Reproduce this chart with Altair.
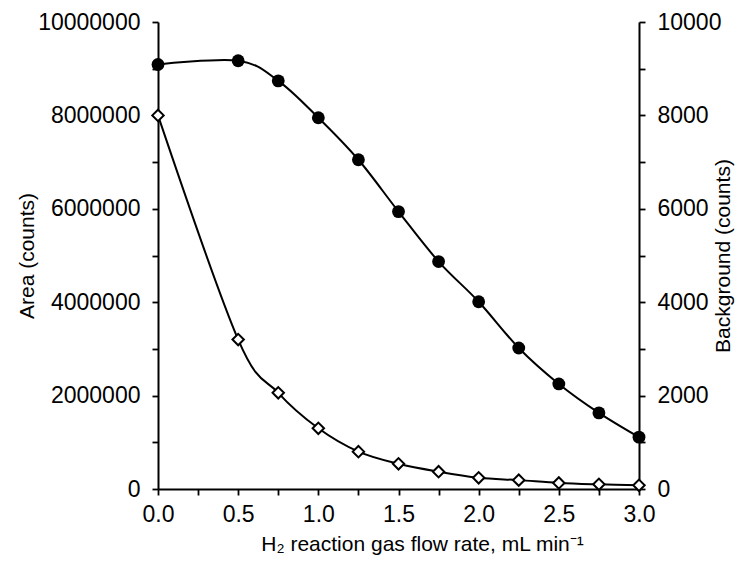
import altair as alt
import pandas as pd

flow = [0.0, 0.5, 0.75, 1.0, 1.25, 1.5, 1.75, 2.0, 2.25, 2.5, 2.75, 3.0]
area = [9090000, 9170000, 8740000, 7950000, 7050000, 5940000, 4870000,
        4010000, 3020000, 2250000, 1630000, 1110000]
background = [8000, 3200, 2060, 1300, 800, 540, 370, 240, 190, 130, 100, 80]

df = pd.DataFrame({"flow": flow, "area": area, "background": background})

FONT = "Liberation Sans"
LFS = 23
TFS = 21

x_enc = alt.X(
    "flow:Q",
    scale=alt.Scale(domain=[0, 3], nice=False, zero=False),
    axis=alt.Axis(
        title="H₂ reaction gas flow rate, mL min⁻¹",
        values=[i * 0.25 for i in range(13)],
        labelExpr="(round(datum.value*100) % 50 == 0) ? format(datum.value, '.1f') : ''",
        tickSize=6, tickColor="black", domainColor="black",
        tickWidth=1.8, domainWidth=2,
        labelPadding=8, titlePadding=7, titleX=264,
        grid=False, labelFlush=False, labelOverlap=False,
    ),
)

base = alt.Chart(df)

area_line = base.mark_line(interpolate="cardinal", color="black", strokeWidth=2).encode(
    x=x_enc,
    y=alt.Y(
        "area:Q",
        scale=alt.Scale(domain=[0, 10000000], nice=False),
        axis=alt.Axis(
            title="Area (counts)", orient="left",
            values=[i * 1000000 for i in range(11)],
            labelExpr="(datum.value % 2000000 == 0) ? format(datum.value, 'd') : ''",
            tickSize=6, tickColor="black", domainColor="black",
            tickWidth=1.8, domainWidth=2,
            labelPadding=12, titlePadding=0, grid=False, labelFlush=False, labelOverlap=False,
        ),
    ),
)
area_pts = base.mark_point(shape="circle", filled=True, color="black", size=165, opacity=1).encode(
    x=alt.X("flow:Q"), y=alt.Y("area:Q")
)

bg_line = base.mark_line(interpolate="cardinal", color="black", strokeWidth=2).encode(
    x=alt.X("flow:Q"),
    y=alt.Y(
        "background:Q",
        scale=alt.Scale(domain=[0, 10000], nice=False),
        axis=alt.Axis(
            title="Background (counts)", orient="right",
            values=[i * 1000 for i in range(11)],
            labelExpr="(datum.value % 2000 == 0) ? format(datum.value, 'd') : ''",
            tickSize=6, tickColor="black", domainColor="black",
            tickWidth=1.8, domainWidth=2,
            labelPadding=12, titlePadding=13, titleAngle=270,
            grid=False, labelFlush=False, labelOverlap=False,
        ),
    ),
)
bg_pts = base.mark_point(shape="diamond", filled=True, fill="white", stroke="black",
                         strokeWidth=2, size=130, opacity=1).encode(
    x=alt.X("flow:Q"), y=alt.Y("background:Q")
)

left = alt.layer(area_line, area_pts)
right = alt.layer(bg_line, bg_pts)

chart = alt.layer(left, right).resolve_scale(y="independent").properties(
    width=481, height=467,
    autosize=alt.AutoSizeParams(type="none"),
    padding={"left": 150, "top": 14, "right": 96, "bottom": 69},
).configure_view(stroke=None).configure_axis(
    labelFont=FONT, titleFont=FONT, labelFontSize=LFS, titleFontSize=TFS,
    labelColor="black", titleColor="black", titleFontWeight="normal",
)

chart.save("out.html", embed_options={"renderer": "svg", "actions": False})
